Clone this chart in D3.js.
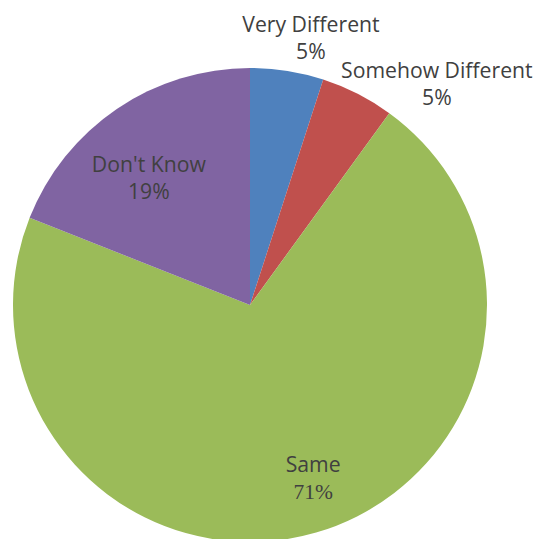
<!DOCTYPE html>
<html>
<head>
<meta charset="utf-8">
<script src="https://cdn.jsdelivr.net/npm/d3@7"></script>
<style>
  html, body { margin: 0; padding: 0; background: #fff; }
  svg { display: block; }
</style>
</head>
<body>
<svg id="chart" width="537" height="539"></svg>
<script>
// Survey answers, share of respondents (%)
const categories = ["Very Different", "Somehow Different", "Same", "Don't Know"];
const values = [5, 5, 71, 19];
const colors = ["#4F81BD", "#C0504D", "#9BBB59", "#8064A2"];

const W = 537, H = 539;
const cx = 250, cy = 305, radius = 237;

const svg = d3.select("#chart");
const g = svg.append("g").attr("transform", `translate(${cx},${cy})`);

const pie = d3.pie().sort(null).value(d => d.value);
const arcs = pie(categories.map((c, i) => ({ name: c, value: values[i], color: colors[i] })));

const arc = d3.arc().innerRadius(0).outerRadius(radius);

g.selectAll("path.slice")
  .data(arcs)
  .join("path")
  .attr("class", "slice")
  .attr("d", arc)
  .attr("fill", d => d.data.color);

// Label placement: radius factor and angular shift (radians) from each slice's mid angle
const labelRadius = [1.152, 1.219, 0.779, 0.684];
const labelShift = [0.068, 0.232, -0.066, -0.077];

const fmt = v => d3.format(".0f")(v) + "%";
const sans = "'Open Sans', 'Noto Sans', sans-serif";

const labels = g.selectAll("g.label")
  .data(arcs)
  .join("g")
  .attr("class", "label")
  .attr("transform", (d, i) => {
    const a = (d.startAngle + d.endAngle) / 2 + labelShift[i];
    const r = radius * labelRadius[i];
    return `translate(${r * Math.sin(a)},${-r * Math.cos(a)})`;
  });

labels.append("text")
  .attr("text-anchor", "middle")
  .attr("y", -6.5)
  .attr("font-family", sans)
  .attr("font-size", 21.2)
  .attr("fill", "#404040")
  .text(d => d.data.name);

labels.append("text")
  .attr("text-anchor", "middle")
  .attr("y", 20.5)
  .attr("font-family", d => d.data.name === "Same" ? "'Liberation Serif', serif" : sans)
  .attr("font-size", d => d.data.name === "Same" ? 21.5 : 21.2)
  .attr("fill", "#404040")
  .text(d => fmt(d.data.value));
</script>
</body>
</html>
